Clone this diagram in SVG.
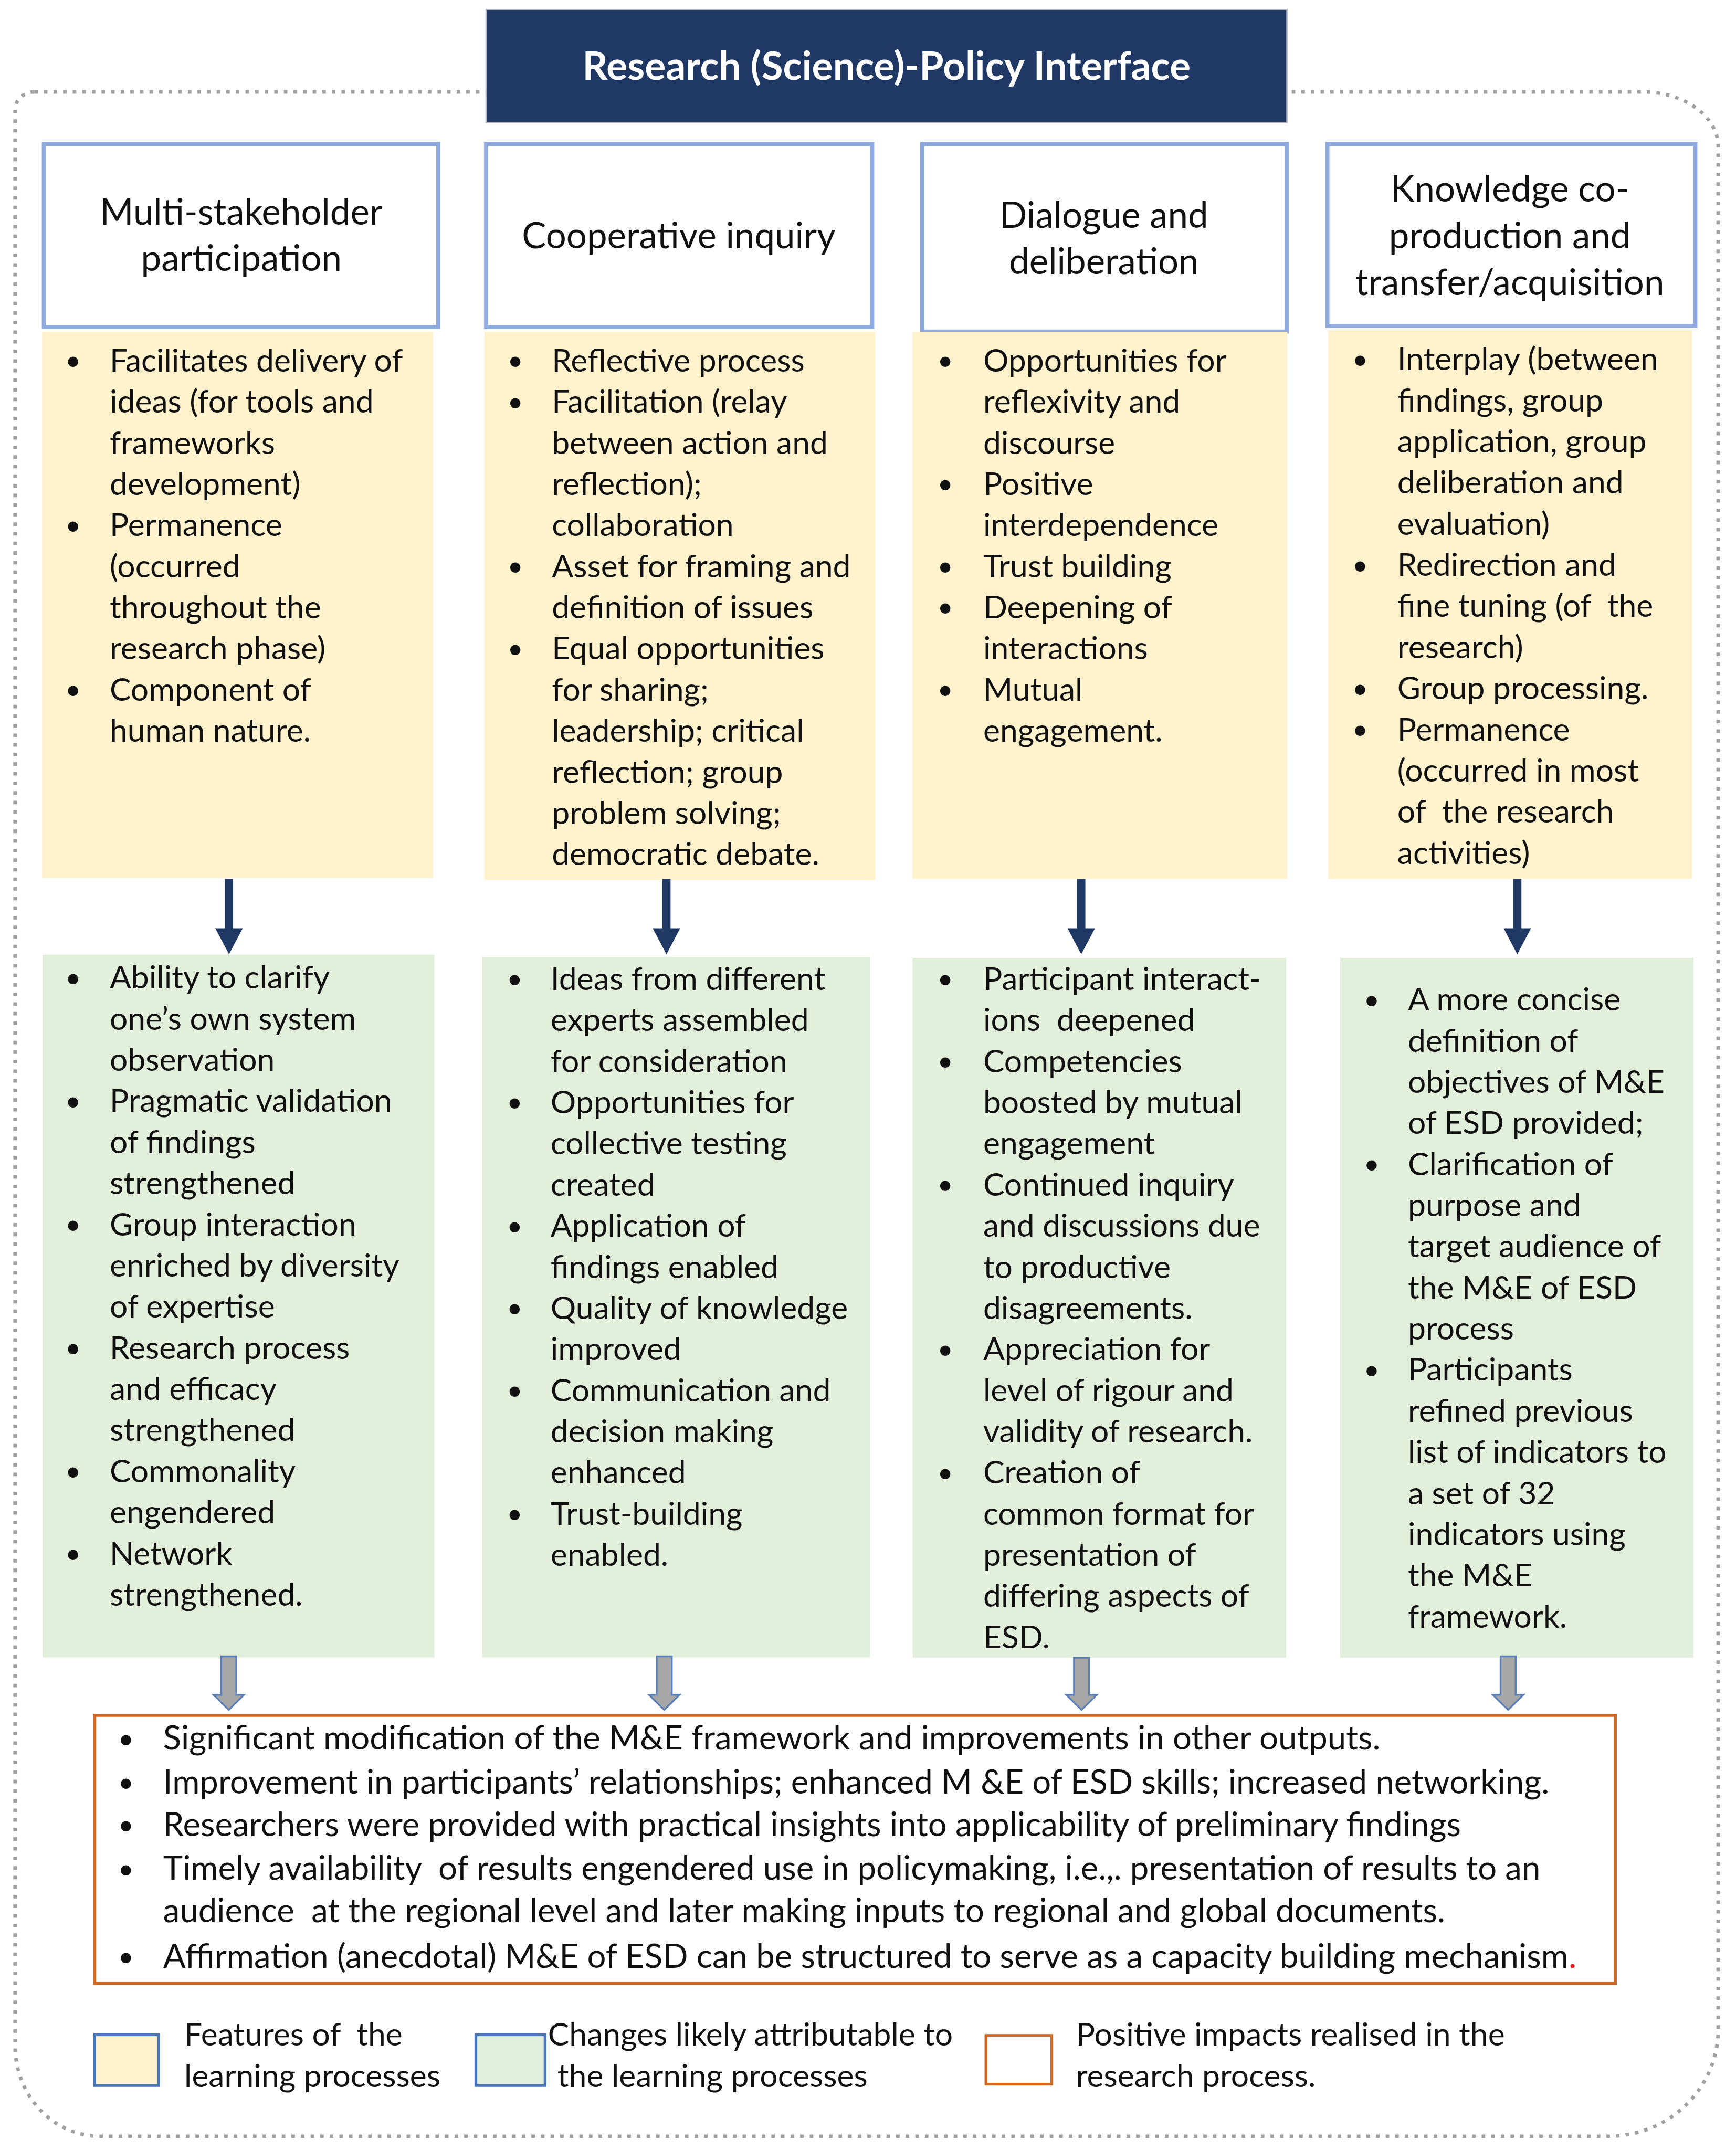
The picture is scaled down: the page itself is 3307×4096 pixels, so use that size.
<svg xmlns="http://www.w3.org/2000/svg" width="3307" height="4096" viewBox="0 0 3307 4096">
<defs>
<style>
text{font-family:Lato,"Liberation Sans",sans-serif;fill:#111}
.b{font-size:23.2px}
.h{font-size:26.4px;text-anchor:middle}
.t{font-size:28.7px;font-weight:bold;fill:#fff;text-anchor:middle}
.o{font-size:24.3px}
.l{font-size:23.2px}
.bu{font-size:20px}
.hb{fill:#fff;stroke:#8FAADC;stroke-width:3}
.y{fill:#FFF2CC}
.g{fill:#E2EFDA}
.da{fill:#1F3864}
.ga{fill:#A6A6A6;stroke:#5B7FB5;stroke-width:1.3}
</style>
</defs>
<rect width="3307" height="4096" fill="#fff"/>
<g transform="scale(2.6122)">
<g id="frame">
<path d="M25,67 H1198 A55,40 0 0 1 1253,107 V1480 A80,78 0 0 1 1173,1558 H73 A62,66 0 0 1 11,1492 V80 A14,13 0 0 1 25,67 Z" fill="none" stroke="#A0A0A0" stroke-width="2.6" stroke-dasharray="2.6 4.4"/>
</g>
<g id="title">
<rect x="354.5" y="7" width="584" height="82.3" fill="#1F3864" stroke="#B0B4C0" stroke-width="1"/>
<text class="t" x="646.5" y="58">Research (Science)-Policy Interface</text>
</g>
<g id="h1"><rect class="hb" x="32" y="105" width="287.6" height="133.5"/>
<text class="h"><tspan x="176" y="164">Multi-stakeholder</tspan><tspan x="176" y="197.5">participation</tspan></text></g>
<g id="h2"><rect class="hb" x="354.5" y="105" width="281.5" height="133.5"/>
<text class="h"><tspan x="495" y="181">Cooperative inquiry</tspan></text></g>
<g id="h3"><rect class="hb" x="672.5" y="105" width="266" height="136.8"/>
<text class="h"><tspan x="805" y="166">Dialogue and</tspan><tspan x="805" y="200">deliberation</tspan></text></g>
<g id="h4"><rect class="hb" x="968" y="105" width="268.3" height="132.7"/>
<text class="h"><tspan x="1101" y="147">Knowledge co-</tspan><tspan x="1101" y="181">production and</tspan><tspan x="1101" y="215">transfer/acquisition</tspan></text></g>

<g id="y1"><rect class="y" x="30.7" y="242" width="285" height="398.4"/>
<text class="bu"><tspan x="47.5" y="270">•</tspan><tspan x="47.5" y="390">•</tspan><tspan x="47.5" y="510">•</tspan></text>
<text class="b"><tspan x="80" y="271">Facilitates delivery of</tspan><tspan x="80" y="301">ideas (for tools and</tspan><tspan x="80" y="331">frameworks</tspan><tspan x="80" y="361">development)</tspan><tspan x="80" y="391">Permanence</tspan><tspan x="80" y="421">(occurred</tspan><tspan x="80" y="451">throughout the</tspan><tspan x="80" y="481">research phase)</tspan><tspan x="80" y="511">Component of</tspan><tspan x="80" y="541">human nature.</tspan></text></g>

<g id="y2"><rect class="y" x="353.2" y="242" width="285" height="399.8"/>
<text class="bu"><tspan x="370" y="270">•</tspan><tspan x="370" y="300">•</tspan><tspan x="370" y="420">•</tspan><tspan x="370" y="480">•</tspan></text>
<text class="b"><tspan x="402.4" y="271">Reflective process</tspan><tspan x="402.4" y="301">Facilitation (relay</tspan><tspan x="402.4" y="331">between action and</tspan><tspan x="402.4" y="361">reflection);</tspan><tspan x="402.4" y="391">collaboration</tspan><tspan x="402.4" y="421">Asset for framing and</tspan><tspan x="402.4" y="451">definition of issues</tspan><tspan x="402.4" y="481">Equal opportunities</tspan><tspan x="402.4" y="511">for sharing;</tspan><tspan x="402.4" y="541">leadership; critical</tspan><tspan x="402.4" y="571">reflection; group</tspan><tspan x="402.4" y="601">problem solving;</tspan><tspan x="402.4" y="631">democratic debate.</tspan></text></g>

<g id="y3"><rect class="y" x="665.5" y="242" width="273.3" height="399"/>
<text class="bu"><tspan x="683.5" y="270">•</tspan><tspan x="683.5" y="360">•</tspan><tspan x="683.5" y="420">•</tspan><tspan x="683.5" y="450">•</tspan><tspan x="683.5" y="510">•</tspan></text>
<text class="b"><tspan x="717" y="271">Opportunities for</tspan><tspan x="717" y="301">reflexivity and</tspan><tspan x="717" y="331">discourse</tspan><tspan x="717" y="361">Positive</tspan><tspan x="717" y="391">interdependence</tspan><tspan x="717" y="421">Trust building</tspan><tspan x="717" y="451">Deepening of</tspan><tspan x="717" y="481">interactions</tspan><tspan x="717" y="511">Mutual</tspan><tspan x="717" y="541">engagement.</tspan></text></g>

<g id="y4"><rect class="y" x="968.5" y="241" width="265.5" height="400"/>
<text class="bu"><tspan x="986" y="269">•</tspan><tspan x="986" y="419">•</tspan><tspan x="986" y="509">•</tspan><tspan x="986" y="539">•</tspan></text>
<text class="b" xml:space="preserve"><tspan x="1019" y="270">Interplay (between</tspan><tspan x="1019" y="300">findings, group</tspan><tspan x="1019" y="330">application, group</tspan><tspan x="1019" y="360">deliberation and</tspan><tspan x="1019" y="390">evaluation)</tspan><tspan x="1019" y="420">Redirection and</tspan><tspan x="1019" y="450">fine tuning (of  the</tspan><tspan x="1019" y="480">research)</tspan><tspan x="1019" y="510">Group processing.</tspan><tspan x="1019" y="540">Permanence</tspan><tspan x="1019" y="570">(occurred in most</tspan><tspan x="1019" y="600">of  the research</tspan><tspan x="1019" y="630">activities)</tspan></text></g>

<g id="g1"><rect class="g" x="31" y="696.3" width="285.8" height="512.5"/>
<text class="bu"><tspan x="47.5" y="720">•</tspan><tspan x="47.5" y="810">•</tspan><tspan x="47.5" y="900">•</tspan><tspan x="47.5" y="990">•</tspan><tspan x="47.5" y="1080">•</tspan><tspan x="47.5" y="1140">•</tspan></text>
<text class="b"><tspan x="80" y="721">Ability to clarify</tspan><tspan x="80" y="751">one’s own system</tspan><tspan x="80" y="781">observation</tspan><tspan x="80" y="811">Pragmatic validation</tspan><tspan x="80" y="841">of findings</tspan><tspan x="80" y="871">strengthened</tspan><tspan x="80" y="901">Group interaction</tspan><tspan x="80" y="931">enriched by diversity</tspan><tspan x="80" y="961">of expertise</tspan><tspan x="80" y="991">Research process</tspan><tspan x="80" y="1021">and efficacy</tspan><tspan x="80" y="1051">strengthened</tspan><tspan x="80" y="1081">Commonality</tspan><tspan x="80" y="1111">engendered</tspan><tspan x="80" y="1141">Network</tspan><tspan x="80" y="1171">strengthened.</tspan></text></g>

<g id="g2"><rect class="g" x="351.6" y="698" width="282.8" height="510.8"/>
<text class="bu"><tspan x="369.5" y="721">•</tspan><tspan x="369.5" y="811">•</tspan><tspan x="369.5" y="901">•</tspan><tspan x="369.5" y="961">•</tspan><tspan x="369.5" y="1021">•</tspan><tspan x="369.5" y="1111">•</tspan></text>
<text class="b"><tspan x="401.5" y="722">Ideas from different</tspan><tspan x="401.5" y="752">experts assembled</tspan><tspan x="401.5" y="782">for consideration</tspan><tspan x="401.5" y="812">Opportunities for</tspan><tspan x="401.5" y="842">collective testing</tspan><tspan x="401.5" y="872">created</tspan><tspan x="401.5" y="902">Application of</tspan><tspan x="401.5" y="932">findings enabled</tspan><tspan x="401.5" y="962">Quality of knowledge</tspan><tspan x="401.5" y="992">improved</tspan><tspan x="401.5" y="1022">Communication and</tspan><tspan x="401.5" y="1052">decision making</tspan><tspan x="401.5" y="1082">enhanced</tspan><tspan x="401.5" y="1112">Trust-building</tspan><tspan x="401.5" y="1142">enabled.</tspan></text></g>

<g id="g3"><rect class="g" x="665.5" y="698.6" width="272.5" height="510.4"/>
<text class="bu"><tspan x="683.5" y="721">•</tspan><tspan x="683.5" y="781">•</tspan><tspan x="683.5" y="871">•</tspan><tspan x="683.5" y="991">•</tspan><tspan x="683.5" y="1081">•</tspan></text>
<text class="b" xml:space="preserve"><tspan x="717" y="722">Participant interact-</tspan><tspan x="717" y="752">ions  deepened</tspan><tspan x="717" y="782">Competencies</tspan><tspan x="717" y="812">boosted by mutual</tspan><tspan x="717" y="842">engagement</tspan><tspan x="717" y="872">Continued inquiry</tspan><tspan x="717" y="902">and discussions due</tspan><tspan x="717" y="932">to productive</tspan><tspan x="717" y="962">disagreements.</tspan><tspan x="717" y="992">Appreciation for</tspan><tspan x="717" y="1022">level of rigour and</tspan><tspan x="717" y="1052">validity of research.</tspan><tspan x="717" y="1082">Creation of</tspan><tspan x="717" y="1112">common format for</tspan><tspan x="717" y="1142">presentation of</tspan><tspan x="717" y="1172">differing aspects of</tspan><tspan x="717" y="1202">ESD.</tspan></text></g>

<g id="g4"><rect class="g" x="977.3" y="698.6" width="257.7" height="510.4"/>
<text class="bu"><tspan x="994.5" y="736">•</tspan><tspan x="994.5" y="856">•</tspan><tspan x="994.5" y="1006">•</tspan></text>
<text class="b"><tspan x="1026.7" y="737">A more concise</tspan><tspan x="1026.7" y="767">definition of</tspan><tspan x="1026.7" y="797">objectives of M&amp;E</tspan><tspan x="1026.7" y="827">of ESD provided;</tspan><tspan x="1026.7" y="857">Clarification of</tspan><tspan x="1026.7" y="887">purpose and</tspan><tspan x="1026.7" y="917">target audience of</tspan><tspan x="1026.7" y="947">the M&amp;E of ESD</tspan><tspan x="1026.7" y="977">process</tspan><tspan x="1026.7" y="1007">Participants</tspan><tspan x="1026.7" y="1037">refined previous</tspan><tspan x="1026.7" y="1067">list of indicators to</tspan><tspan x="1026.7" y="1097">a set of 32</tspan><tspan x="1026.7" y="1127">indicators using</tspan><tspan x="1026.7" y="1157">the M&amp;E</tspan><tspan x="1026.7" y="1187">framework.</tspan></text></g>

<g id="connectors">
<path class="da" d="M164,641 H170 V677 H177 L167,696 L157,677 H164 Z"/>
<path class="da" d="M483,641 H489 V677 H496 L486,696 L476,677 H483 Z"/>
<path class="da" d="M785.5,641 H791.5 V677 H798.5 L788.5,696 L778.5,677 H785.5 Z"/>
<path class="da" d="M1103.5,641 H1109.5 V677 H1116.5 L1106.5,696 L1096.5,677 H1103.5 Z"/>
<path class="ga" d="M161.3,1208 H172.3 V1236 H178 L166.8,1247 L155.6,1236 H161.3 Z"/>
<path class="ga" d="M478.9,1208 H489.9 V1236 H495.6 L484.4,1247 L473.2,1236 H478.9 Z"/>
<path class="ga" d="M783.2,1209 H794.2 V1236 H799.9 L788.7,1247 L777.5,1236 H783.2 Z"/>
<path class="ga" d="M1094.3,1208 H1105.3 V1236 H1111 L1099.8,1247 L1088.6,1236 H1094.3 Z"/>
</g>

<g id="impacts"><rect x="69" y="1251" width="1109" height="195.5" fill="#fff" stroke="#D06A28" stroke-width="2.2"/>
<text class="bu"><tspan x="86" y="1275">•</tspan><tspan x="86" y="1307">•</tspan><tspan x="86" y="1338">•</tspan><tspan x="86" y="1370">•</tspan><tspan x="86" y="1434">•</tspan></text>
<text class="o" xml:space="preserve"><tspan x="119" y="1276">Significant modification of the M&amp;E framework and improvements in other outputs.</tspan><tspan x="119" y="1308">Improvement in participants’ relationships; enhanced M &amp;E of ESD skills; increased networking.</tspan><tspan x="119" y="1339">Researchers were provided with practical insights into applicability of preliminary findings</tspan><tspan x="119" y="1371">Timely availability  of results engendered use in policymaking, i.e.,. presentation of results to an</tspan><tspan x="119" y="1402">audience  at the regional level and later making inputs to regional and global documents.</tspan><tspan x="119" y="1435">Affirmation (anecdotal) M&amp;E of ESD can be structured to serve as a capacity building mechanism</tspan><tspan fill="#E02020">.</tspan></text></g>

<g id="legend-features"><rect x="69" y="1484" width="46.6" height="37" fill="#FFF2CC" stroke="#4A76B8" stroke-width="2"/>
<text class="l" xml:space="preserve"><tspan x="134.4" y="1492">Features of  the</tspan><tspan x="134.4" y="1522">learning processes</tspan></text></g>
<g id="legend-changes"><rect x="347" y="1484" width="50.5" height="37" fill="#E2EFDA" stroke="#4A76B8" stroke-width="2"/>
<text class="l"><tspan x="399.6" y="1492">Changes likely attributable to</tspan><tspan x="406.5" y="1522">the learning processes</tspan></text></g>
<g id="legend-impacts"><rect x="719" y="1484.5" width="48" height="35.5" fill="#fff" stroke="#D06A28" stroke-width="2"/>
<text class="l"><tspan x="784.7" y="1492">Positive impacts realised in the</tspan><tspan x="784.7" y="1522">research process.</tspan></text></g>
</g>
</svg>
